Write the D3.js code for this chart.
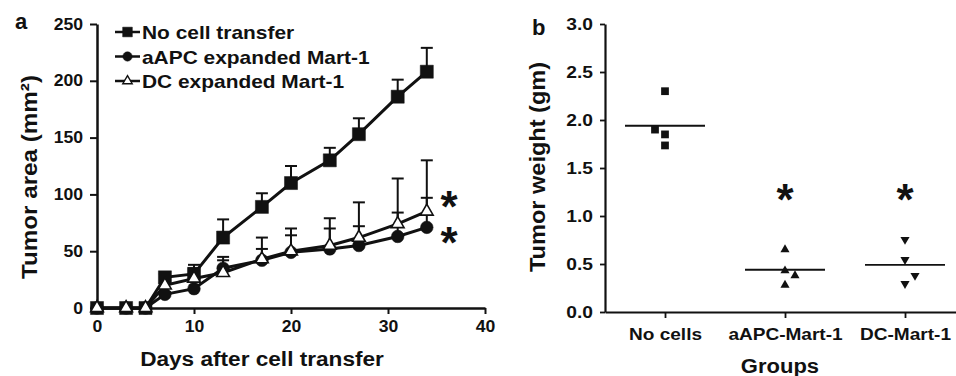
<!DOCTYPE html>
<html>
<head>
<meta charset="utf-8">
<script src="https://cdn.jsdelivr.net/npm/d3@7"></script>
<style>
  body { margin: 0; background: #fff; }
  svg { display: block; font-family: "Liberation Sans", Arial, sans-serif; font-weight: bold; }
</style>
</head>
<body>
<div id="chart"></div>
<script>
// panel a: tumor area over time
const days = [0, 3, 5, 7, 10, 13, 17, 20, 24, 27, 31, 34];
const noCell = [0, 0, 0, 27, 30, 62, 89, 110, 130, 153, 186, 208];
const noCellUpper = [0, 0, 0, 30, 38, 78, 101, 125, 141, 167, 201, 229];
const aapc = [0, 0, 0, 12, 17, 35, 42, 49, 52, 55, 63, 71];
const aapcUpper = [0, 0, 0, 14, 24, 42, 52, 64, 70, 72, 84, 97];
const dcMart = [0, 0, 0, 20, 26, 31, 43, 50, 55, 62, 74, 85];
const dcMartUpper = [0, 0, 0, 22, 35, 45, 62, 70, 79, 93, 114, 130];
const legendLabels = ["No cell transfer", "aAPC expanded Mart-1", "DC expanded Mart-1"];
const areaTicks = [0, 50, 100, 150, 200, 250];
const dayTicks = [0, 10, 20, 30, 40];

// panel b: tumor weight per group
const groups = ["No cells", "aAPC-Mart-1", "DC-Mart-1"];
const weightNoCells = [2.30, 1.90, 1.85, 1.735];
const weightAapc = [0.65, 0.43, 0.38, 0.28];
const weightDc = [0.755, 0.545, 0.38, 0.295];
const jitterNoCells = [0, -1, 0, 0];
const jitterAapc = [0, 0, 1, 0];
const jitterDc = [0, 0, 1, 0];
const weightMeans = [1.94, 0.44, 0.49];
const weightTicks = [0, 0.5, 1.0, 1.5, 2.0, 2.5, 3.0];

const W = 956, H = 376;
const svg = d3.select("#chart").append("svg")
  .attr("width", W).attr("height", H);

// widen text a bit, the source figure has a broad bold face
function stretch(sel, sx) {
  sel.each(function () {
    const w = this.getComputedTextLength();
    d3.select(this).attr("textLength", w * sx).attr("lengthAdjust", "spacingAndGlyphs");
  });
}

// ---------- panel a ----------
const xA = d3.scaleLinear().domain([0, 40]).range([97, 485]);
const yA = d3.scaleLinear().domain([0, 250]).range([308, 24]);

const gA = svg.append("g");

const axA_y = gA.append("g")
  .attr("transform", `translate(${xA(0)},0)`)
  .call(d3.axisLeft(yA).tickValues(areaTicks).tickSize(7).tickPadding(7).tickSizeOuter(0));
const axA_x = gA.append("g")
  .attr("transform", `translate(0,${yA(0)})`)
  .call(d3.axisBottom(xA).tickValues(dayTicks).tickSize(6).tickPadding(7).tickSizeOuter(0));

[axA_y, axA_x].forEach(a => {
  a.select(".domain").attr("stroke", "#111").attr("stroke-width", 2.5);
  a.selectAll(".tick line").attr("stroke", "#111").attr("stroke-width", 2);
  a.selectAll("text").attr("font-size", 16).attr("font-weight", "bold").attr("fill", "#111")
    .attr("font-family", "Liberation Sans, Arial, sans-serif");
});
stretch(axA_y.selectAll("text"), 1.1);
stretch(axA_x.selectAll("text"), 1.1);

const series = [
  { vals: noCell, upper: noCellUpper, sym: d3.symbolSquare, size: 170, fill: "#111" },
  { vals: aapc, upper: aapcUpper, sym: d3.symbolCircle, size: 125, fill: "#111" },
  { vals: dcMart, upper: dcMartUpper, sym: d3.symbolTriangle, size: 70, fill: "#fff" }
];

const line = d3.line()
  .x((d, i) => xA(days[i]))
  .y(d => yA(d));

series.forEach(s => {
  gA.append("path")
    .datum(s.vals)
    .attr("fill", "none")
    .attr("stroke", "#111")
    .attr("stroke-width", 3)
    .attr("d", line);
});

// error bars (upper only)
series.forEach(s => {
  const eb = gA.append("g").attr("stroke", "#111").attr("stroke-width", 2);
  s.vals.forEach((v, i) => {
    if (s.upper[i] - v < 2) return;
    const x = xA(days[i]);
    eb.append("line").attr("x1", x).attr("x2", x).attr("y1", yA(v)).attr("y2", yA(s.upper[i]));
    eb.append("line").attr("x1", x - 6).attr("x2", x + 6).attr("y1", yA(s.upper[i])).attr("y2", yA(s.upper[i]));
  });
});

series.forEach(s => {
  gA.append("g").selectAll("path")
    .data(s.vals)
    .join("path")
    .attr("transform", (d, i) => `translate(${xA(days[i])},${yA(d)})`)
    .attr("d", d3.symbol().type(s.sym).size(s.size))
    .attr("fill", s.fill)
    .attr("stroke", "#111")
    .attr("stroke-width", s.fill === "#fff" ? 1.6 : 0.5);
});

// legend
const leg = gA.append("g");
legendLabels.forEach((lab, i) => {
  const y = 32 + i * 24.5;
  leg.append("line").attr("x1", 115).attr("x2", 140).attr("y1", y).attr("y2", y)
    .attr("stroke", "#111").attr("stroke-width", 2.5);
  leg.append("path")
    .attr("transform", `translate(127.5,${y})`)
    .attr("d", d3.symbol().type(series[i].sym).size(series[i].size * 0.55))
    .attr("fill", series[i].fill).attr("stroke", "#111")
    .attr("stroke-width", series[i].fill === "#fff" ? 1.4 : 0.5);
  const t = leg.append("text").attr("x", 142).attr("y", y + 7)
    .attr("font-size", 19).attr("fill", "#111").text(lab);
  stretch(t, 1.1);
});

// significance marks: one text, two lines (glyph centre ~25px above baseline at 44px)
const stars = gA.append("text")
  .attr("text-anchor", "middle").attr("font-size", 44).attr("fill", "#111");
[197, 233].forEach(cy => {
  stars.append("tspan").attr("x", 449).attr("y", cy + 25).text("*");
});

const titleAx = gA.append("text")
  .attr("x", 262).attr("y", 366)
  .attr("text-anchor", "middle").attr("font-size", 20).attr("fill", "#111")
  .text("Days after cell transfer");
stretch(titleAx, 1.13);

const titleAy = gA.append("text")
  .attr("transform", "translate(37,177) rotate(-90)")
  .attr("text-anchor", "middle").attr("font-size", 22).attr("fill", "#111")
  .text("Tumor area (mm²)");
stretch(titleAy, 1.1);

gA.append("text").attr("x", 15).attr("y", 29).attr("font-size", 22).attr("fill", "#111").text("a");

// ---------- panel b ----------
const xB = d3.scalePoint().domain(groups).range([605, 965]).padding(0.5);
const yB = d3.scaleLinear().domain([0, 3]).range([312, 24]);

const gB = svg.append("g");

const axB_y = gB.append("g")
  .attr("transform", `translate(605,0)`)
  .call(d3.axisLeft(yB).tickValues(weightTicks).tickFormat(d3.format(".1f"))
    .tickSize(5).tickPadding(7).tickSizeOuter(0));
const axB_x = gB.append("g")
  .attr("transform", `translate(0,${yB(0)})`)
  .call(d3.axisBottom(xB).tickSize(6).tickPadding(10).tickSizeOuter(0));

[axB_y, axB_x].forEach(a => {
  a.select(".domain").attr("stroke", "#111").attr("stroke-width", 2.2);
  a.selectAll(".tick line").attr("stroke", "#111").attr("stroke-width", 1.8);
  a.selectAll("text").attr("font-size", 16).attr("font-weight", "bold").attr("fill", "#111")
    .attr("font-family", "Liberation Sans, Arial, sans-serif");
});
stretch(axB_y.selectAll("text"), 1.2);
axB_x.selectAll("text").attr("font-size", 17);
stretch(axB_x.selectAll("text"), 1.12);

const groupData = [
  { vals: weightNoCells, jit: jitterNoCells, sym: d3.symbolSquare, rot: 0 },
  { vals: weightAapc, jit: jitterAapc, sym: d3.symbolTriangle, rot: 0 },
  { vals: weightDc, jit: jitterDc, sym: d3.symbolTriangle, rot: 180 }
];

groupData.forEach((g, gi) => {
  const cx = xB(groups[gi]);
  gB.append("line")
    .attr("x1", cx - 40).attr("x2", cx + 40)
    .attr("y1", yB(weightMeans[gi])).attr("y2", yB(weightMeans[gi]))
    .attr("stroke", "#111").attr("stroke-width", 1.8);
  gB.append("g").selectAll("path")
    .data(g.vals)
    .join("path")
    .attr("transform", (d, i) => `translate(${cx + g.jit[i] * 10},${yB(d)}) rotate(${g.rot})`)
    .attr("d", d3.symbol().type(g.sym).size(g.sym === d3.symbolSquare ? 60 : 36))
    .attr("fill", "#111");
  if (gi > 0) {
    gB.append("text").attr("x", cx).attr("y", 193 + 22)
      .attr("text-anchor", "middle").attr("font-size", 44).attr("fill", "#111").text("*");
  }
});

const titleBx = gB.append("text")
  .attr("x", 780).attr("y", 373)
  .attr("text-anchor", "middle").attr("font-size", 20).attr("fill", "#111")
  .text("Groups");
stretch(titleBx, 1.1);

const titleBy = gB.append("text")
  .attr("transform", "translate(545,167) rotate(-90)")
  .attr("text-anchor", "middle").attr("font-size", 22).attr("fill", "#111")
  .text("Tumor weight (gm)");
stretch(titleBy, 1.07);

gB.append("text").attr("x", 532).attr("y", 35).attr("font-size", 22).attr("fill", "#111").text("b");
</script>
</body>
</html>
